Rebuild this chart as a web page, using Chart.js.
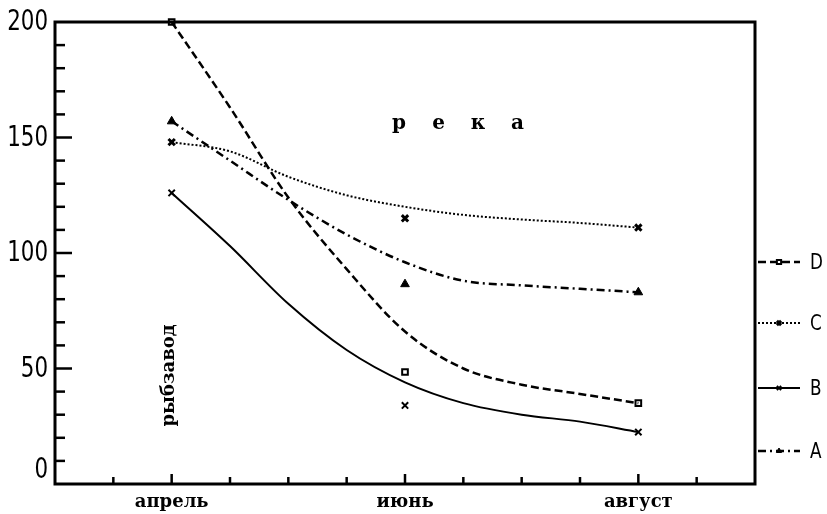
<!DOCTYPE html>
<html>
<head>
<meta charset="utf-8">
<script src="https://cdn.jsdelivr.net/npm/chart.js@4/dist/chart.umd.min.js"></script>
<style>
    html, body { margin: 0; padding: 0; background: #fff; }
    #wrap { width: 827px; height: 514px; position: relative; }
</style>
</head>
<body>
<div id="wrap"><canvas id="chart"></canvas></div>
<script>
// months on the x axis: 3 = март ... 9 = сентябрь
const monthNames = { 4: 'апрель', 6: 'июнь', 8: 'август' };

// smoothed curves
const curveMonths = [4, 4.5, 5, 5.5, 6, 6.5, 7, 7.5, 8];
const curveD = [200, 163, 124, 93, 66, 50, 43, 39, 35];
const curveC = [148, 144, 133, 125, 120, 116.5, 114.5, 113, 111];
const curveB = [126, 103, 78, 58, 44, 35, 30, 27, 22.5];
const curveA = [157, 140, 123, 108, 96, 88, 86, 84.5, 83];

// measured points
const obsMonths = [4, 6, 8];
const obsD = [200, 48.5, 35];
const obsC = [148, 115, 111];
const obsB = [126, 34, 22.5];
const obsA = [157, 86.5, 83];

const yTicks = [0, 50, 100, 150, 200];

const SERIF = '"DejaVu Serif", "Liberation Serif", serif';
const NARROW = '"DejaVu Sans Condensed", "Liberation Sans", sans-serif';

function pts(xs, ys) {
    return xs.map(function (x, i) { return { x: x, y: ys[i] }; });
}

const series = [
    { name: 'D', curve: curveD, obs: obsD, dash: [8, 4], width: 2.5, style: 'rect', radius: 4, fill: '#fff', pw: 2, ly: 262 },
    { name: 'C', curve: curveC, obs: obsC, dash: [2, 2], width: 2, style: 'crossRot', radius: 4.5, fill: '#000', pw: 3, ly: 323 },
    { name: 'B', curve: curveB, obs: obsB, dash: [], width: 2, style: 'crossRot', radius: 4.5, fill: '#000', pw: 2, ly: 388 },
    { name: 'A', curve: curveA, obs: obsA, dash: [8, 4, 2, 4], width: 2.5, style: 'triangle', radius: 5, fill: '#000', pw: 1, ly: 451 }
];

const datasets = [];
series.forEach(function (s) {
    datasets.push({
        label: s.name,
        data: pts(curveMonths, s.curve),
        showLine: true,
        borderColor: '#000',
        borderWidth: s.width,
        borderDash: s.dash,
        pointRadius: 0,
        cubicInterpolationMode: 'monotone',
        clip: false
    });
    datasets.push({
        label: s.name + ' obs',
        data: pts(obsMonths, s.obs),
        showLine: false,
        pointStyle: s.style,
        pointRadius: s.radius,
        pointBorderWidth: s.pw,
        pointBorderColor: '#000',
        pointBackgroundColor: s.fill,
        clip: false
    });
});

const framePlugin = {
    id: 'frame',
    afterDraw: function (chart) {
        const ctx = chart.ctx;
        const a = chart.chartArea;
        const xs = chart.scales.x;
        const ys = chart.scales.y;
        ctx.save();
        ctx.strokeStyle = '#000';
        ctx.lineWidth = 3;
        ctx.setLineDash([]);
        ctx.strokeRect(a.left, a.top, a.right - a.left, a.bottom - a.top);

        // y ticks, pointing inward
        ctx.lineWidth = 2.5;
        for (let v = 10; v < 200; v += 10) {
            const y = ys.getPixelForValue(v);
            const len = v % 50 === 0 ? 17 : 10;
            ctx.beginPath();
            ctx.moveTo(a.left, y);
            ctx.lineTo(a.left + len, y);
            ctx.stroke();
        }
        // x ticks, pointing inward
        xs.ticks.forEach(function (t) {
            if (t.value <= xs.min || t.value >= xs.max) return;
            const x = xs.getPixelForValue(t.value);
            const len = monthNames[t.value] ? 10 : 7;
            ctx.beginPath();
            ctx.moveTo(x, a.bottom);
            ctx.lineTo(x, a.bottom - len);
            ctx.stroke();
        });

        // y labels, tall and narrow like the original
        ctx.fillStyle = '#000';
        ctx.font = '28px ' + NARROW;
        ctx.textAlign = 'right';
        ctx.textBaseline = 'middle';
        yTicks.forEach(function (v) {
            const y = ys.getPixelForValue(v) - (v === 0 ? 13 : -1);
            ctx.save();
            ctx.translate(48, y);
            ctx.scale(0.85, 1);
            ctx.fillText(String(v), 0, 0);
            ctx.restore();
        });

        // annotations
        ctx.textAlign = 'center';
        ctx.font = 'bold 20px ' + SERIF;
        'река'.split('').forEach(function (ch, i) {
            ctx.fillText(ch, 399 + i * 39.5, 124);
        });
        ctx.save();
        ctx.translate(xs.getPixelForValue(3.98), ys.getPixelForValue(47));
        ctx.rotate(-Math.PI / 2);
        ctx.font = 'bold 18px ' + SERIF;
        ctx.fillText('рыбзавод', 0, 0);
        ctx.restore();

        // legend on the right
        series.forEach(function (s) {
            ctx.lineWidth = s.width;
            ctx.setLineDash(s.dash);
            ctx.beginPath();
            ctx.moveTo(758, s.ly);
            ctx.lineTo(800, s.ly);
            ctx.stroke();
            ctx.setLineDash([]);
            ctx.fillStyle = s.fill;
            ctx.lineWidth = s.pw;
            Chart.helpers.drawPoint(ctx, { pointStyle: s.style, radius: 3, borderWidth: s.pw, rotation: 0 }, 779, s.ly);
            ctx.fillStyle = '#000';
            ctx.save();
            ctx.translate(810, s.ly + 1);
            ctx.scale(0.85, 1);
            ctx.font = '22px ' + NARROW;
            ctx.textAlign = 'left';
            ctx.fillText(s.name, 0, 0);
            ctx.restore();
        });
        ctx.restore();
    }
};

new Chart(document.getElementById('chart'), {
    type: 'scatter',
    data: { datasets: datasets },
    options: {
        responsive: true,
        maintainAspectRatio: false,
        animation: false,
        layout: { padding: { top: 22, right: 72, left: 0, bottom: 0 } },
        plugins: { legend: { display: false }, tooltip: { enabled: false } },
        scales: {
            x: {
                type: 'linear',
                min: 3,
                max: 9,
                grid: { display: false, drawTicks: false },
                border: { display: false },
                afterFit: function (scale) { scale.height = 30; },
                ticks: {
                    stepSize: 0.5,
                    autoSkip: false,
                    maxRotation: 0,
                    padding: 8,
                    color: '#000',
                    font: { family: SERIF, size: 18, weight: 'bold' },
                    callback: function (v) { return monthNames[v] || ''; }
                }
            },
            y: {
                min: 0,
                max: 200,
                grid: { display: false, drawTicks: false },
                border: { display: false },
                afterFit: function (scale) { scale.width = 55; },
                afterBuildTicks: function (scale) {
                    scale.ticks = yTicks.map(function (v) { return { value: v }; });
                },
                ticks: { display: false }
            }
        }
    },
    plugins: [framePlugin]
});
</script>
</body>
</html>
